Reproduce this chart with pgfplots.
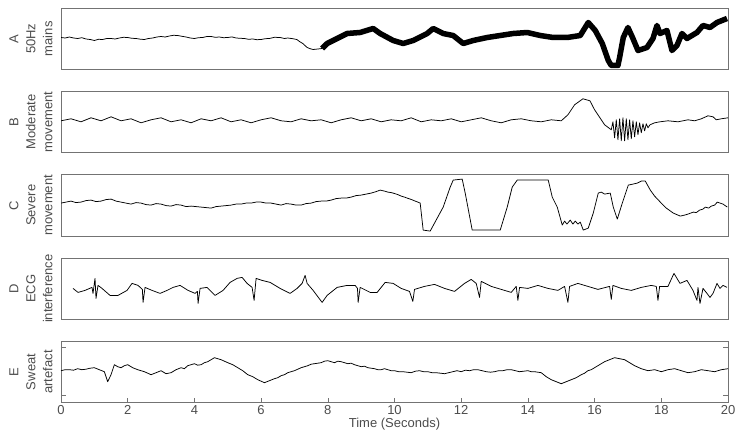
\documentclass[border=0pt]{standalone}
\usepackage{fontspec}
\setmainfont{Liberation Sans}
\usepackage{pgfplots}
\pgfplotsset{compat=1.18}

\pgfplotsset{
  panel/.style={
    width=667pt, height=61.5pt, scale only axis,
    xmin=0, xmax=20, ymin=0, ymax=61.5,
    axis line style={black!55, line width=0.6pt},
    xtick=\empty, ytick=\empty,
    anchor=south west,
  },
  trace/.style={black, line width=0.75pt, line join=round},
}
\newcommand{\lblfont}{\fontsize{13}{17}\selectfont}

\begin{document}
\begin{tikzpicture}
\path[use as bounding box] (0,0) rectangle (740pt,437pt);

% A: 50Hz mains
\begin{axis}[panel, at={(61pt,367.5pt)}]
\addplot[trace] coordinates {
(0,32) (0.125,31.5) (0.25,32.5) (0.375,31.5) (0.5,31) (0.625,31.8) (0.75,30.5)
(0.875,30) (1,29) (1.125,30.2) (1.25,30) (1.375,31) (1.5,31) (1.625,30.5)
(1.75,31.5) (1.875,32.2) (2,32) (2.125,31.2) (2.25,31) (2.375,30.3) (2.5,30)
(2.625,31) (2.75,31.5) (2.875,32.5) (3,33) (3.125,32.5) (3.25,33.5) (3.375,34.2)
(3.5,34) (3.625,33.2) (3.75,32.5) (3.875,31.5) (4,31) (4.125,31.8) (4.25,32)
(4.375,33) (4.5,33) (4.625,32.2) (4.75,32.5) (4.875,31.8) (5,32) (5.125,32.6)
(5.25,31.5) (5.375,31.2) (5.5,31) (5.625,30.2) (5.75,30.5) (5.875,29.8) (6,30)
(6.125,30.8) (6.25,31) (6.4,32.2) (6.57,32) (6.7,31) (6.8,31.5) (6.95,30.8)
(7.07,30) (7.15,28) (7.25,26) (7.38,22) (7.47,20.8) (7.56,20) (7.7,20.5) (7.83,21)
};
\addplot[black, line width=5.5pt, line join=round] coordinates {
(7.83,21) (7.98,26) (8.28,31) (8.58,36) (8.97,37) (9.36,41) (9.57,36) (9.96,29)
(10.26,26) (10.56,29) (10.98,36) (11.16,41) (11.46,36) (11.76,34) (12.06,26)
(12.36,29) (12.78,32) (13.17,34) (13.56,36) (13.98,37) (14.37,34) (14.76,32)
(15.18,32) (15.57,34) (15.81,47) (16.02,39) (16.23,26) (16.41,9) (16.5,4)
(16.7,4) (16.75,12) (16.86,32) (17.0,42) (17.15,31) (17.3,19) (17.57,22)
(17.75,31) (17.87,44) (17.96,36) (18.17,39) (18.32,19) (18.47,24) (18.62,36)
(18.77,31) (19.07,37) (19.25,44) (19.46,42) (19.67,47) (19.97,51)
};
\end{axis}

% B: moderate movement
\begin{axis}[panel, at={(61pt,284.2pt)}]
\addplot[trace] coordinates {
(0,32) (0.15,33) (0.3,34) (0.45,32.5) (0.6,31) (0.75,33) (0.9,35) (1.05,33.5)
(1.2,32) (1.35,34) (1.5,36) (1.65,34) (1.8,32) (1.95,33) (2.1,34) (2.25,32)
(2.4,30) (2.55,31.5) (2.7,33) (2.85,34) (3.0,35) (3.15,33) (3.3,31) (3.45,32)
(3.6,33) (3.75,31.5) (3.9,30) (4.05,32) (4.2,34) (4.35,33) (4.5,32) (4.65,33.5)
(4.8,35) (4.95,33) (5.1,31) (5.25,32) (5.4,33) (5.55,31.5) (5.7,30) (5.85,31.5)
(6.0,33) (6.15,34) (6.3,35) (6.45,33.5) (6.6,32) (6.75,31.5) (6.9,31) (7.05,32.5)
(7.2,34) (7.35,33) (7.5,32) (7.65,32.5) (7.8,33) (7.95,31.5) (8.1,30) (8.25,31.5)
(8.4,33) (8.55,34) (8.7,35) (8.85,33.5) (9.0,32) (9.15,33) (9.3,34) (9.45,32.5)
(9.6,31) (9.75,32) (9.9,33) (10.05,32.5) (10.2,32) (10.35,33.5) (10.5,35)
(10.65,33) (10.8,31) (10.95,32) (11.1,33) (11.25,32.5) (11.4,32) (11.55,33)
(11.7,34) (11.85,32.5) (12.0,31) (12.15,32) (12.3,33) (12.45,34) (12.6,35)
(12.75,33.5) (12.9,32) (13.05,31) (13.2,30) (13.35,31.5) (13.5,33) (13.65,33.5)
(13.8,34) (13.95,33) (14.1,32) (14.25,31.5) (14.4,31) (14.55,32) (14.7,33)
(14.85,32.5) (15.0,32)
(15.2,38) (15.4,48) (15.65,54) (15.86,52) (16.0,43) (16.16,35) (16.3,28)
(16.5,23) (16.55,31) (16.6,15) (16.65,33) (16.7,13) (16.75,34) (16.8,12)
(16.85,35) (16.9,12) (16.95,34) (17.0,13) (17.05,33) (17.1,14) (17.15,32)
(17.2,16) (17.25,31) (17.3,18) (17.35,30) (17.4,20) (17.45,29) (17.5,22)
(17.55,29) (17.6,25) (17.66,28) (17.8,30) (17.96,31) (18.2,32) (18.5,31)
(18.8,33) (19.0,32) (19.2,34) (19.4,37) (19.55,36) (19.65,33) (19.8,34) (20,35)
};
\end{axis}

% C: severe movement
\begin{axis}[panel, at={(61pt,200.9pt)}]
\addplot[trace] coordinates {
(0,33) (0.15,34) (0.3,35) (0.45,33.5) (0.6,34) (0.75,35.5) (0.9,36) (1.05,34.5)
(1.2,35) (1.35,36.5) (1.5,37) (1.65,35) (1.8,34) (1.95,33) (2.1,32) (2.25,33.5)
(2.4,33) (2.55,31.5) (2.7,31) (2.85,32.5) (3.0,32) (3.15,30.5) (3.3,30)
(3.45,31.5) (3.6,31) (3.75,29.5) (3.9,30) (4.05,29.5) (4.2,29) (4.35,28.5)
(4.5,28) (4.65,29.5) (4.8,30) (4.95,30.5) (5.1,31) (5.25,32) (5.4,32) (5.55,33)
(5.7,33) (5.85,34) (6.0,34) (6.15,33) (6.3,33) (6.45,32) (6.6,31) (6.75,32.5)
(6.9,32) (7.05,31) (7.2,31) (7.35,32.5) (7.5,33) (7.65,34.5) (7.8,35) (7.95,35)
(8.1,36) (8.25,37.5) (8.4,38) (8.55,38) (8.7,39) (8.85,40.5) (9.0,41) (9.15,42)
(9.3,43) (9.45,44.5) (9.57,46) (9.7,45) (9.8,44) (9.9,43.5) (9.96,43) (10.1,41.5)
(10.2,40) (10.3,39) (10.38,38) (10.47,37) (10.55,36) (10.62,35) (10.7,34)
(10.77,33) (10.86,6) (11.07,5) (11.2,13) (11.46,29) (11.67,49) (11.76,56)
(12.03,57) (12.12,43) (12.33,6) (13.17,6) (13.38,29) (13.53,49) (13.68,56)
(14.61,56) (14.73,39) (14.88,29)
(15.03,11) (15.1,15) (15.17,12) (15.27,16) (15.35,12) (15.42,15) (15.5,12)
(15.57,14) (15.66,6) (15.81,8) (15.96,23) (16.11,43) (16.2,44) (16.3,42)
(16.47,43) (16.56,29) (16.68,17) (16.83,33) (17.01,51) (17.15,52) (17.28,53)
(17.4,55) (17.52,55) (17.67,46) (17.8,40) (17.97,34) (18.15,28) (18.36,23)
(18.57,20) (18.7,21) (18.8,22) (18.96,24) (19.05,23.5) (19.15,26) (19.25,27)
(19.32,29) (19.42,28) (19.5,30) (19.6,31) (19.68,34) (19.76,33) (19.85,32)
(19.98,29)
};
\end{axis}

% D: ECG interference
\begin{axis}[panel, at={(61pt,117.6pt)}]
\addplot[trace] coordinates {
(0.36,31) (0.51,27) (0.72,29) (0.93,32) (0.96,26) (1.02,41) (1.05,21) (1.11,34)
(1.23,31) (1.47,24) (1.71,24) (1.98,29) (2.13,36) (2.31,34) (2.44,30) (2.46,17)
(2.52,32) (2.73,29) (2.97,26) (3.18,29) (3.36,32) (3.57,34) (3.81,29) (4.02,26)
(4.09,28) (4.11,16) (4.17,31) (4.38,32) (4.62,24) (4.86,29) (5.07,37) (5.28,41)
(5.43,42) (5.58,36) (5.73,32) (5.79,19) (5.85,41) (6.03,39) (6.27,37) (6.57,31)
(6.87,26) (7.08,31) (7.23,36) (7.32,44) (7.38,36) (7.56,29) (7.83,17) (7.98,24)
(8.28,32) (8.58,34) (8.82,34) (8.89,31) (8.91,17) (8.97,32) (9.27,27) (9.48,27)
(9.72,37) (9.96,36) (10.2,31) (10.45,28) (10.55,18) (10.6,30) (10.9,33)
(11.2,35) (11.5,31) (11.8,28) (12.1,36) (12.3,40) (12.45,36) (12.55,22)
(12.6,38) (12.9,33) (13.2,30) (13.5,27) (13.65,33) (13.7,19) (13.75,32)
(14.0,31) (14.3,34) (14.6,31) (14.9,29) (15.1,33) (15.2,17) (15.25,33)
(15.5,36) (15.8,33) (16.1,30) (16.45,33) (16.5,20) (16.55,34) (16.8,31)
(17.1,29) (17.4,32) (17.7,34) (17.85,33) (17.9,19) (17.95,33) (18.2,33)
(18.38,46) (18.56,36) (18.77,39) (18.95,29) (19.07,19) (19.1,32) (19.16,16)
(19.25,31) (19.37,26) (19.46,22) (19.55,26) (19.67,36) (19.76,31) (19.85,34)
(19.97,32)
};
\end{axis}

% E: sweat artefact
\begin{axis}[panel, at={(61pt,34.3pt)},
  xtick={0,2,...,20}, xtick pos=lower,
  ytick={7.7,55.7}, yticklabels={}, ytick pos=both,
  tick align=inside, major tick length=5pt,
  tick style={black!55, line width=0.6pt},
  /pgf/number format/assume math mode=true,
  xticklabel style={font=\lblfont, text=black!70, inner sep=2.5pt},
  xlabel={Time (Seconds)},
  xlabel style={font=\lblfont, text=black!70, inner sep=1pt},
]
\addplot[trace] coordinates {
(0,32) (0.125,33) (0.25,33) (0.375,32.5) (0.5,34) (0.625,33) (0.75,33.5)
(0.875,34.5) (1,35) (1.15,33) (1.3,31) (1.4,21) (1.5,28) (1.6,38) (1.7,36)
(1.8,35) (1.9,37) (2,38) (2.15,35) (2.3,33) (2.4,32) (2.5,31) (2.6,29.5) (2.7,28)
(2.85,30) (3,32) (3.15,29) (3.3,30) (3.45,33) (3.6,35) (3.7,34) (3.8,37) (3.9,38)
(4.0,39) (4.1,37.5) (4.2,38) (4.3,40) (4.4,41) (4.5,43) (4.6,45) (4.7,44) (4.8,43)
(4.9,41.5) (5.0,40) (5.15,38) (5.3,35) (5.45,32) (5.6,28) (5.75,26) (5.9,23)
(6.0,21.5) (6.1,20) (6.25,22) (6.4,24) (6.5,25) (6.6,27) (6.7,28) (6.8,30)
(6.9,31) (7.0,32) (7.1,33.5) (7.2,35) (7.3,36) (7.4,37) (7.5,38.5) (7.6,39)
(7.7,39.5) (7.8,40) (7.9,41.5) (8.0,42) (8.1,41) (8.2,40) (8.3,41.5) (8.4,41)
(8.5,40) (8.6,39) (8.7,39.5) (8.8,38) (8.9,37) (9.0,36) (9.1,36.5) (9.2,35)
(9.3,34.5) (9.4,34) (9.5,33) (9.6,33) (9.7,34) (9.8,33) (9.9,32) (10,32)
(10.125,31) (10.25,31) (10.375,30.5) (10.5,30) (10.625,31.5) (10.75,32)
(10.875,31) (11,31) (11.125,30) (11.25,30) (11.375,29.5) (11.5,29) (11.625,30)
(11.75,31) (11.875,32) (12,31) (12.125,32.5) (12.25,32) (12.375,33) (12.5,33)
(12.625,32) (12.75,31) (12.875,30.5) (13,31) (13.125,32) (13.25,32) (13.375,33)
(13.5,33) (13.625,32) (13.75,31) (13.875,31.5) (14,32) (14.1,31) (14.2,31)
(14.3,30.5) (14.4,30) (14.55,26) (14.7,23) (14.85,21) (15.0,19) (15.15,21)
(15.3,23) (15.45,25) (15.6,28) (15.7,29.5) (15.8,32) (15.9,33) (16.0,35)
(16.15,38) (16.3,41) (16.45,43) (16.6,45) (16.75,44) (16.9,43) (17.05,40)
(17.2,37) (17.3,35.5) (17.4,34) (17.5,33) (17.6,32) (17.7,32.5) (17.8,33)
(17.9,32) (18.0,31) (18.1,32) (18.2,33) (18.3,33.5) (18.4,34) (18.5,33)
(18.6,32) (18.7,31) (18.8,30) (18.9,30.5) (19.0,31) (19.1,32) (19.2,33)
(19.3,32.5) (19.4,32) (19.5,31.5) (19.6,31) (19.7,32) (19.8,33) (19.9,33.5) (20,34)
};
\end{axis}

% panel labels
\begin{scope}[every node/.style={rotate=90, align=center, font=\lblfont, text=black!70}]
\node at (31pt,398.25pt) {A\\50Hz\\mains};
\node at (31pt,314.95pt) {B\\Moderate\\movement};
\node at (31pt,231.65pt) {C\\Severe\\movement};
\node at (31pt,148.35pt) {D\\ECG\\interference};
\node at (31pt,65.05pt) {E\\Sweat\\artefact};
\end{scope}
\end{tikzpicture}
\end{document}
